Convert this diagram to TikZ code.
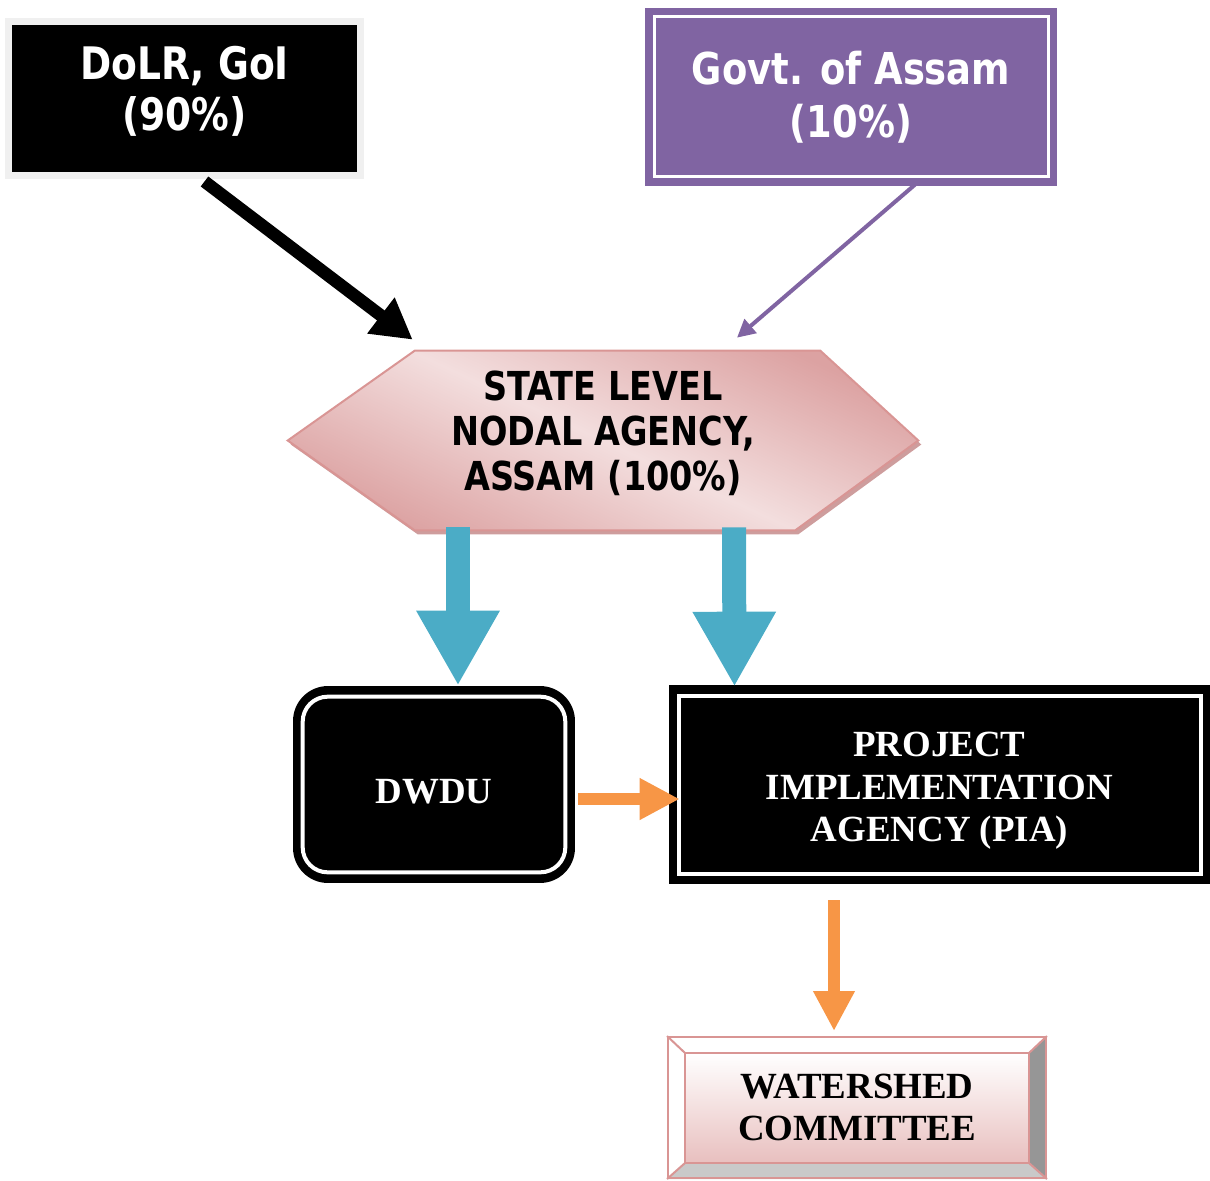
\documentclass[tikz,border=0pt]{standalone}
\usepackage{fontspec}
\setmainfont{Liberation Serif}
\newfontfamily\tahoma[FakeStretch=0.84]{DejaVu Sans}
\usetikzlibrary{backgrounds, positioning, calc, arrows.meta, shadows}

\definecolor{lavender}{HTML}{8064A2}
\definecolor{seablue}{HTML}{4BACC6}
\definecolor{tangerine}{HTML}{F79646}
\definecolor{rosy}{HTML}{D99594}
\definecolor{blush}{HTML}{F3DEDE}
\definecolor{dusk}{HTML}{DCA2A2}

\begin{document}
\begin{tikzpicture}[x=0.02cm, y=-0.02cm]
    \tikzstyle{fund} = [rectangle, inner sep=0pt, align=center, text=white, font=\tahoma\bfseries\fontsize{25.5}{29}\selectfont];
    \tikzstyle{agency} = [rectangle, inner sep=0pt, align=center, text=white, fill=black, font=\bfseries\fontsize{21}{24.4}\selectfont];
    \tikzstyle{bigarrow} = [seablue, line width=0.48cm, -{Triangle[width=1.56cm, length=1.5cm]}];
    \tikzstyle{flow} = [tangerine, line width=0.24cm, -{Triangle[width=0.78cm, length=0.8cm]}];

    \useasboundingbox (0,0) rectangle (1210,1180);

    \node[fund, fill=black, draw=black!6, line width=0.14cm, minimum width=7.03cm, minimum height=3.09cm,
        drop shadow={shadow xshift=0.06cm, shadow yshift=-0.06cm, fill=black!30, opacity=1}] (dolr) at (184.5,98.75) {DoLR, GoI\\(90\%)\rule[-0.4cm]{0pt}{0pt}};
    \node[fund, fill=lavender, minimum width=8.24cm, minimum height=3.56cm,
        font=\tahoma\bfseries\fontsize{25}{30}\selectfont] (govt) at (851,97) {Govt. of Assam\\(10\%)};
    \draw[white, line width=0.06cm] ($(govt.north west)+(10,9)$) rectangle ($(govt.south east)+(-9,-10)$);

    \node[inner sep=0pt, align=center, minimum width=12.6cm, minimum height=3.58cm,
        font=\tahoma\bfseries\fontsize{22.7}{25.5}\selectfont] (slna) at (603,440.5) {STATE LEVEL\\NODAL AGENCY,\\ASSAM (100\%)\rule[-0.4cm]{0pt}{0pt}};
    \begin{scope}[on background layer]
        \fill[dusk!85!gray] ($(slna.west)+(3,4)$) -- ($(slna.north west)+(130,4)$) -- ($(slna.north east)+(-95,4)$)
            -- ($(slna.east)+(3,4)$) -- ($(slna.south east)+(-120,4)$) -- ($(slna.south west)+(130,4)$) -- cycle;
        \draw[rosy, line width=0.04cm, left color=dusk, right color=dusk, middle color=blush, shading angle=-25]
            (slna.west) -- ($(slna.north west)+(127,0)$) -- ($(slna.north east)+(-98,0)$)
            -- (slna.east) -- ($(slna.south east)+(-123,0)$) -- ($(slna.south west)+(127,0)$) -- cycle;
    \end{scope}

    \node[agency, rounded corners=0.7cm, minimum width=5.64cm, minimum height=3.94cm] (dwdu) at (434,784.5) {\rule{0pt}{0.76cm}DWDU};
    \draw[white, line width=0.08cm, rounded corners=0.5cm] ($(dwdu.north west)+(10,11)$) rectangle ($(dwdu.south east)+(-10,-11)$);

    \node[agency, minimum width=10.82cm, minimum height=3.98cm] (pia) at (939.5,784.5) {\rule{0pt}{0.74cm}PROJECT\\IMPLEMENTATION\\AGENCY (PIA)};
    \draw[white, line width=0.08cm] ($(pia.north west)+(10,11)$) rectangle ($(pia.south east)+(-9,-10)$);

    \node[inner sep=0pt, align=center, draw=rosy, line width=0.04cm, minimum width=7.56cm, minimum height=2.82cm,
        font=\bfseries\fontsize{21}{24.4}\selectfont] (wc) at (857,1107.5) {WATERSHED\\COMMITTEE};
    \begin{scope}[on background layer]
        \fill[white] (wc.north west) rectangle (wc.south east);
        \fill[black!41] (wc.north east) -- ($(wc.north east)+(-18,17)$) -- ($(wc.south east)+(-18,-16)$) -- (wc.south east) -- cycle;
        \fill[black!21] (wc.south west) -- ($(wc.south west)+(18,-16)$) -- ($(wc.south east)+(-18,-16)$) -- (wc.south east) -- cycle;
        \draw[rosy, line width=0.04cm, top color=white, bottom color=rosy!60] ($(wc.north west)+(18,17)$) rectangle ($(wc.south east)+(-18,-16)$);
        \draw[rosy, line width=0.04cm] (wc.north west) -- ($(wc.north west)+(18,17)$);
        \draw[rosy, line width=0.04cm] (wc.north east) -- ($(wc.north east)+(-18,17)$);
        \draw[rosy, line width=0.04cm] (wc.south west) -- ($(wc.south west)+(18,-16)$);
        \draw[rosy, line width=0.04cm] (wc.south east) -- ($(wc.south east)+(-18,-16)$);
    \end{scope}

    \draw[black, line width=0.25cm, -{Triangle[width=0.85cm, length=0.8cm]}] ($(dolr.south)+(20,2)$) -- ($(slna.north west)+(125,-11)$);
    \draw[lavender, line width=0.08cm, -{Triangle[width=0.36cm, length=0.36cm]}] ($(govt.south)+(69,-6)$) -- ($(slna.north)+(134,-13)$);

    \draw[bigarrow] ($(slna.south)+(-145,-3)$) -- ($(dwdu.north)+(24,0)$);
    \draw[bigarrow] ($(slna.south)+(131,-3)$) -- ($(pia.north)+(-205,2)$);

    \draw[flow] ($(dwdu.east)+(3,14.5)$) -- ($(pia.west)+(11,14.5)$);
    \draw[flow] ($(pia.south)+(-105.5,16)$) -- ($(wc.north)+(-23,-5)$);
\end{tikzpicture}
\end{document}
